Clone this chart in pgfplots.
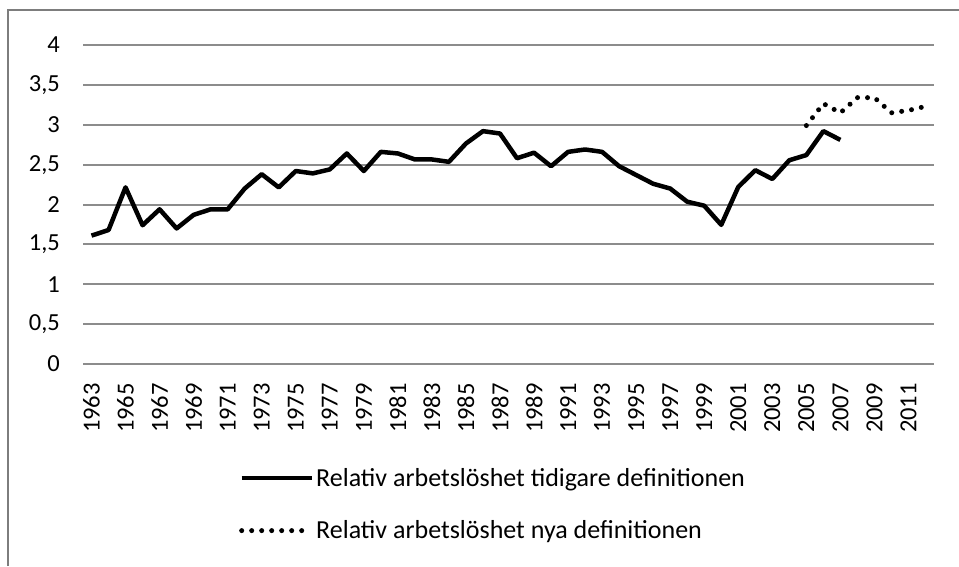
\documentclass[border=0pt]{standalone}
\usepackage{pgfplots}
\pgfplotsset{compat=1.18}
\usepackage{fontspec}
\setmainfont{Carlito}
\definecolor{gridgray}{RGB}{140,140,140}
\definecolor{framegray}{RGB}{125,125,125}
\begin{document}
\begin{tikzpicture}
\useasboundingbox (0,0) rectangle (959pt,566pt);
\fill[white] (0,0) rectangle (959pt,566pt);
\draw[framegray, line width=2.5pt] (8pt,0pt) -- (8pt,556pt) -- (960pt,556pt);
\begin{axis}[
  at={(83pt,202pt)}, anchor=south west,
  scale only axis, width=851pt, height=319pt,
  xmin=1962.5, xmax=2012.5, ymin=0, ymax=4,
  axis line style={draw=none}, tick style={draw=none},
  major tick length=0pt,
  ytick={0,0.5,1,1.5,2,2.5,3,3.5,4},
  yticklabels={0,{0,5},1,{1,5},2,{2,5},3,{3,5},4},
  xtick={1963,1965,...,2011},
  xticklabels={1963,1965,1967,1969,1971,1973,1975,1977,1979,1981,1983,1985,1987,1989,1991,1993,1995,1997,1999,2001,2003,2005,2007,2009,2011},
  ymajorgrids, grid style={gridgray, line width=2pt},
  yticklabel style={font=\fontsize{24.5}{28}\selectfont, inner sep=0pt, anchor=east, xshift=-23pt},
  xticklabel style={font=\fontsize{24.5}{28}\selectfont, inner sep=0pt, rotate=90, anchor=east, xshift=-19pt},
  clip=false,
  legend cell align=left,
  legend style={at={(0.1833,-0.32)}, anchor=north west, draw=none, fill=none,
    font=\fontsize{26}{28}\selectfont, row sep=29pt, inner sep=0pt,
    nodes={inner sep=2pt}},
  legend image code/.code={\draw[#1] (0pt,0pt) -- (70pt,0pt);},
]
\addplot[black, line width=4.5pt, line join=round] coordinates {
(1963,1.61) (1964,1.68) (1965,2.215) (1966,1.74) (1967,1.94) (1968,1.70)
(1969,1.87) (1970,1.94) (1971,1.94) (1972,2.20) (1973,2.38) (1974,2.215)
(1975,2.42) (1976,2.39) (1977,2.44) (1978,2.64) (1979,2.42) (1980,2.66)
(1981,2.64) (1982,2.565) (1983,2.565) (1984,2.535) (1985,2.765) (1986,2.92)
(1987,2.89) (1988,2.58) (1989,2.65) (1990,2.48) (1991,2.66) (1992,2.69)
(1993,2.66) (1994,2.48) (1995,2.37) (1996,2.26) (1997,2.20) (1998,2.035)
(1999,1.985) (2000,1.745) (2001,2.22) (2002,2.43) (2003,2.32) (2004,2.555)
(2005,2.62) (2006,2.92) (2007,2.81)
};
\addlegendentry{Relativ arbetslöshet tidigare definitionen}
\addplot[black, line width=5pt, line cap=round, dash pattern=on 0pt off 10pt] coordinates {
(2005,2.99) (2006,3.265) (2007,3.15) (2008,3.34) (2009,3.34) (2010,3.15) (2011,3.18) (2012,3.23)
};
\addlegendentry{Relativ arbetslöshet nya definitionen}
\end{axis}
\end{tikzpicture}
\end{document}
